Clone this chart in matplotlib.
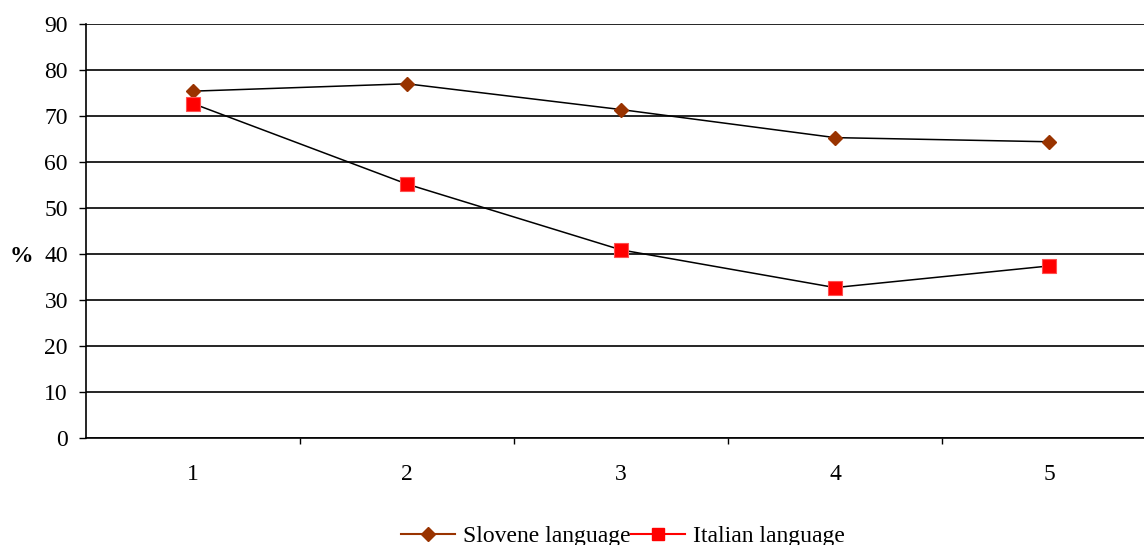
import matplotlib
matplotlib.use("Agg")
import matplotlib.pyplot as plt
from matplotlib.lines import Line2D

categories = [1, 2, 3, 4, 5]
slovene = [75.4, 77.0, 71.4, 65.3, 64.4]
italian = [72.7, 55.2, 40.9, 32.7, 37.4]
yticks = [0, 10, 20, 30, 40, 50, 60, 70, 80, 90]

plt.rcParams['font.family'] = ['Liberation Serif', 'DejaVu Serif']

W, H = 1144, 545
fig = plt.figure(figsize=(W / 100, H / 100), dpi=100)
ax = fig.add_axes([86 / W, 1 - 438 / H, (1156 - 86) / W, (438 - 24) / H])

brown = '#993300'
red = '#FF0000'

ax.plot(categories, slovene, color='black', lw=1.1, marker='D', markersize=7.5,
        markerfacecolor=brown, markeredgecolor=brown, zorder=3, clip_on=False)
ax.plot(categories, italian, color='black', lw=1.1, marker='s', markersize=9.8,
        markerfacecolor=red, markeredgecolor='#ff5050', markeredgewidth=0.8,
        zorder=3, clip_on=False)

ax.set_xlim(0.5, 5.5)
ax.set_ylim(0, 90)
ax.set_yticks(yticks)
ax.set_xticks(categories)
ax.set_xticks([1.5, 2.5, 3.5, 4.5], minor=True)
ax.tick_params(axis='x', which='major', length=0, pad=19, labelsize=17)
ax.tick_params(axis='x', which='minor', length=4, direction='out', width=1)
ax.tick_params(axis='y', length=5, direction='out', width=1, pad=8, labelsize=17)
ax.grid(axis='y', color='black', lw=1.2)
ax.set_axisbelow(True)
for s in ['top', 'right']:
    ax.spines[s].set_visible(False)
ax.spines['left'].set_linewidth(1.2)
ax.spines['bottom'].set_linewidth(1.2)

fig.text(21 / W, 1 - 256 / H, '%', fontsize=17, fontweight='bold', ha='center', va='center')

handles = [
    Line2D([], [], color=brown, lw=1.5, marker='D', markersize=7, markerfacecolor=brown, markeredgecolor=brown),
    Line2D([], [], color=red, lw=1.5, marker='s', markersize=9, markerfacecolor=red, markeredgecolor=red),
]
fig.legend(handles, ['Slovene language', 'Italian language'], loc='center',
           bbox_to_anchor=(623 / W, 1 - 536 / H), ncol=2, frameon=False,
           fontsize=17, handlelength=2.3, handletextpad=0.35, columnspacing=0.0,
           borderpad=0)

fig.savefig('out.png', dpi=100)
